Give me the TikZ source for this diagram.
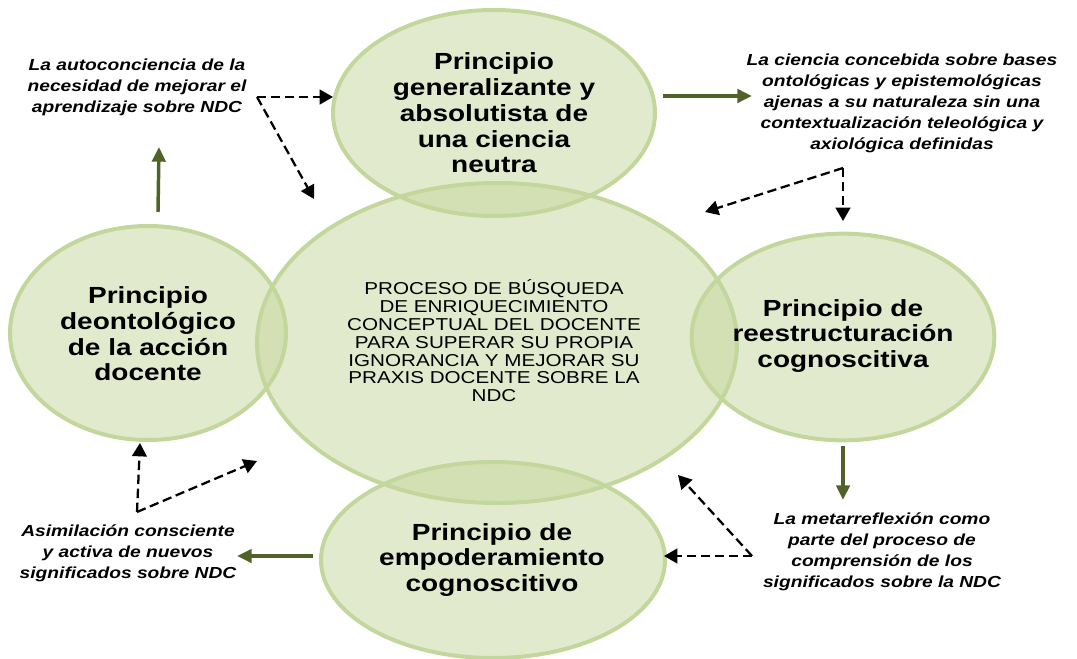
\documentclass[tikz,border=0pt]{standalone}
\usepackage{fontspec}
\setmainfont[FakeStretch=1.2]{Liberation Sans}
\usetikzlibrary{shapes.geometric,arrows.meta}
\definecolor{ringgreen}{HTML}{C3D69B}
\definecolor{arrowgreen}{HTML}{4F6228}
\tikzset{
  principle/.style={ellipse,draw=ringgreen,line width=3pt,fill=ringgreen,fill opacity=0.5,inner sep=0pt},
  title/.style={align=center,font=\fontsize{17.5}{19.3}\selectfont\bfseries},
  core/.style={align=center,font=\fontsize{12.9}{13.35}\selectfont},
  note/.style={align=center,font=\fontsize{12}{15.75}\selectfont\bfseries\itshape},
  flow/.style={draw=arrowgreen,line width=2.6pt,-{Triangle[length=11pt,width=10pt]},arrowgreen},
  hint/.style={draw,line width=1.7pt,dash pattern=on 7pt off 3.5pt,-{Triangle[length=10pt,width=11pt]}}
}
\begin{document}
\begin{tikzpicture}[x=0.75pt,y=-0.75pt]
\useasboundingbox (0,0) rectangle (1077,659);

\node[principle,minimum width=360pt,minimum height=240pt] (process) at (497,343) {};
\node[principle,minimum width=241.5pt,minimum height=154.5pt] (neutral) at (494,113) {};
\node[principle,minimum width=207pt,minimum height=160.5pt] (deonto) at (148,333) {};
\node[principle,minimum width=227pt,minimum height=155pt] (restruct) at (843,337) {};
\node[principle,minimum width=258pt,minimum height=147pt] (empower) at (493,560) {};

\node[core] (process-txt) at (494,341) {PROCESO DE BÚSQUEDA\\DE ENRIQUECIMIENTO\\CONCEPTUAL DEL DOCENTE\\PARA SUPERAR SU PROPIA\\IGNORANCIA Y MEJORAR SU\\PRAXIS DOCENTE SOBRE LA\\NDC};
\node[title] (neutral-txt) at (494,113) {Principio\\generalizante y\\absolutista de\\una ciencia\\neutra};
\node[title] (deonto-txt) at (148,334) {Principio\\deontológico\\de la acción\\docente};
\node[title] (restruct-txt) at (843,336) {Principio de\\reestructuración\\cognoscitiva};
\node[title] (empower-txt) at (492,560) {Principio de\\empoderamiento\\cognoscitivo};

\node[note] (selfaware) at (137,87) {La autoconciencia de la\\necesidad de mejorar el\\aprendizaje sobre NDC};
\node[note] (science) at (902,103) {La ciencia concebida sobre bases\\ontológicas y epistemológicas\\ajenas a su naturaleza sin una\\contextualización teleológica y\\axiológica definidas};
\node[note] (assimil) at (128,553) {Asimilación consciente\\y activa de nuevos\\significados sobre NDC};
\node[note] (metaref) at (882,552) {La metarreflexión como\\parte del proceso de\\comprensión de los\\significados sobre la NDC};

\coordinate (g1a) at (663,96);  \coordinate (g1b) at (752,96);
\coordinate (g2a) at (158,212); \coordinate (g2b) at (159,147);
\coordinate (g3a) at (843,446); \coordinate (g3b) at (843,500);
\coordinate (g4a) at (313,556); \coordinate (g4b) at (237,556);
\path[flow] (g1a) -- (g1b);
\path[flow] (g2a) -- (g2b);
\path[flow] (g3a) -- (g3b);
\path[flow] (g4a) -- (g4b);

\coordinate (tl) at (257,97);  \coordinate (tl1) at (333,97);  \coordinate (tl2) at (314,199);
\coordinate (tr) at (843,168); \coordinate (tr1) at (843,221); \coordinate (tr2) at (705,212);
\coordinate (bl) at (137,512); \coordinate (bl1) at (140,443); \coordinate (bl2) at (257,461);
\coordinate (br) at (752,556); \coordinate (br1) at (664,556); \coordinate (br2) at (678,475);
\path[hint] (tl) -- (tl1);
\path[hint] (tl) -- (tl2);
\path[hint] (tr) -- (tr1);
\path[hint] (tr) -- (tr2);
\path[hint] (bl) -- (bl1);
\path[hint] (bl) -- (bl2);
\path[hint] (br) -- (br1);
\path[hint] (br) -- (br2);
\end{tikzpicture}
\end{document}
